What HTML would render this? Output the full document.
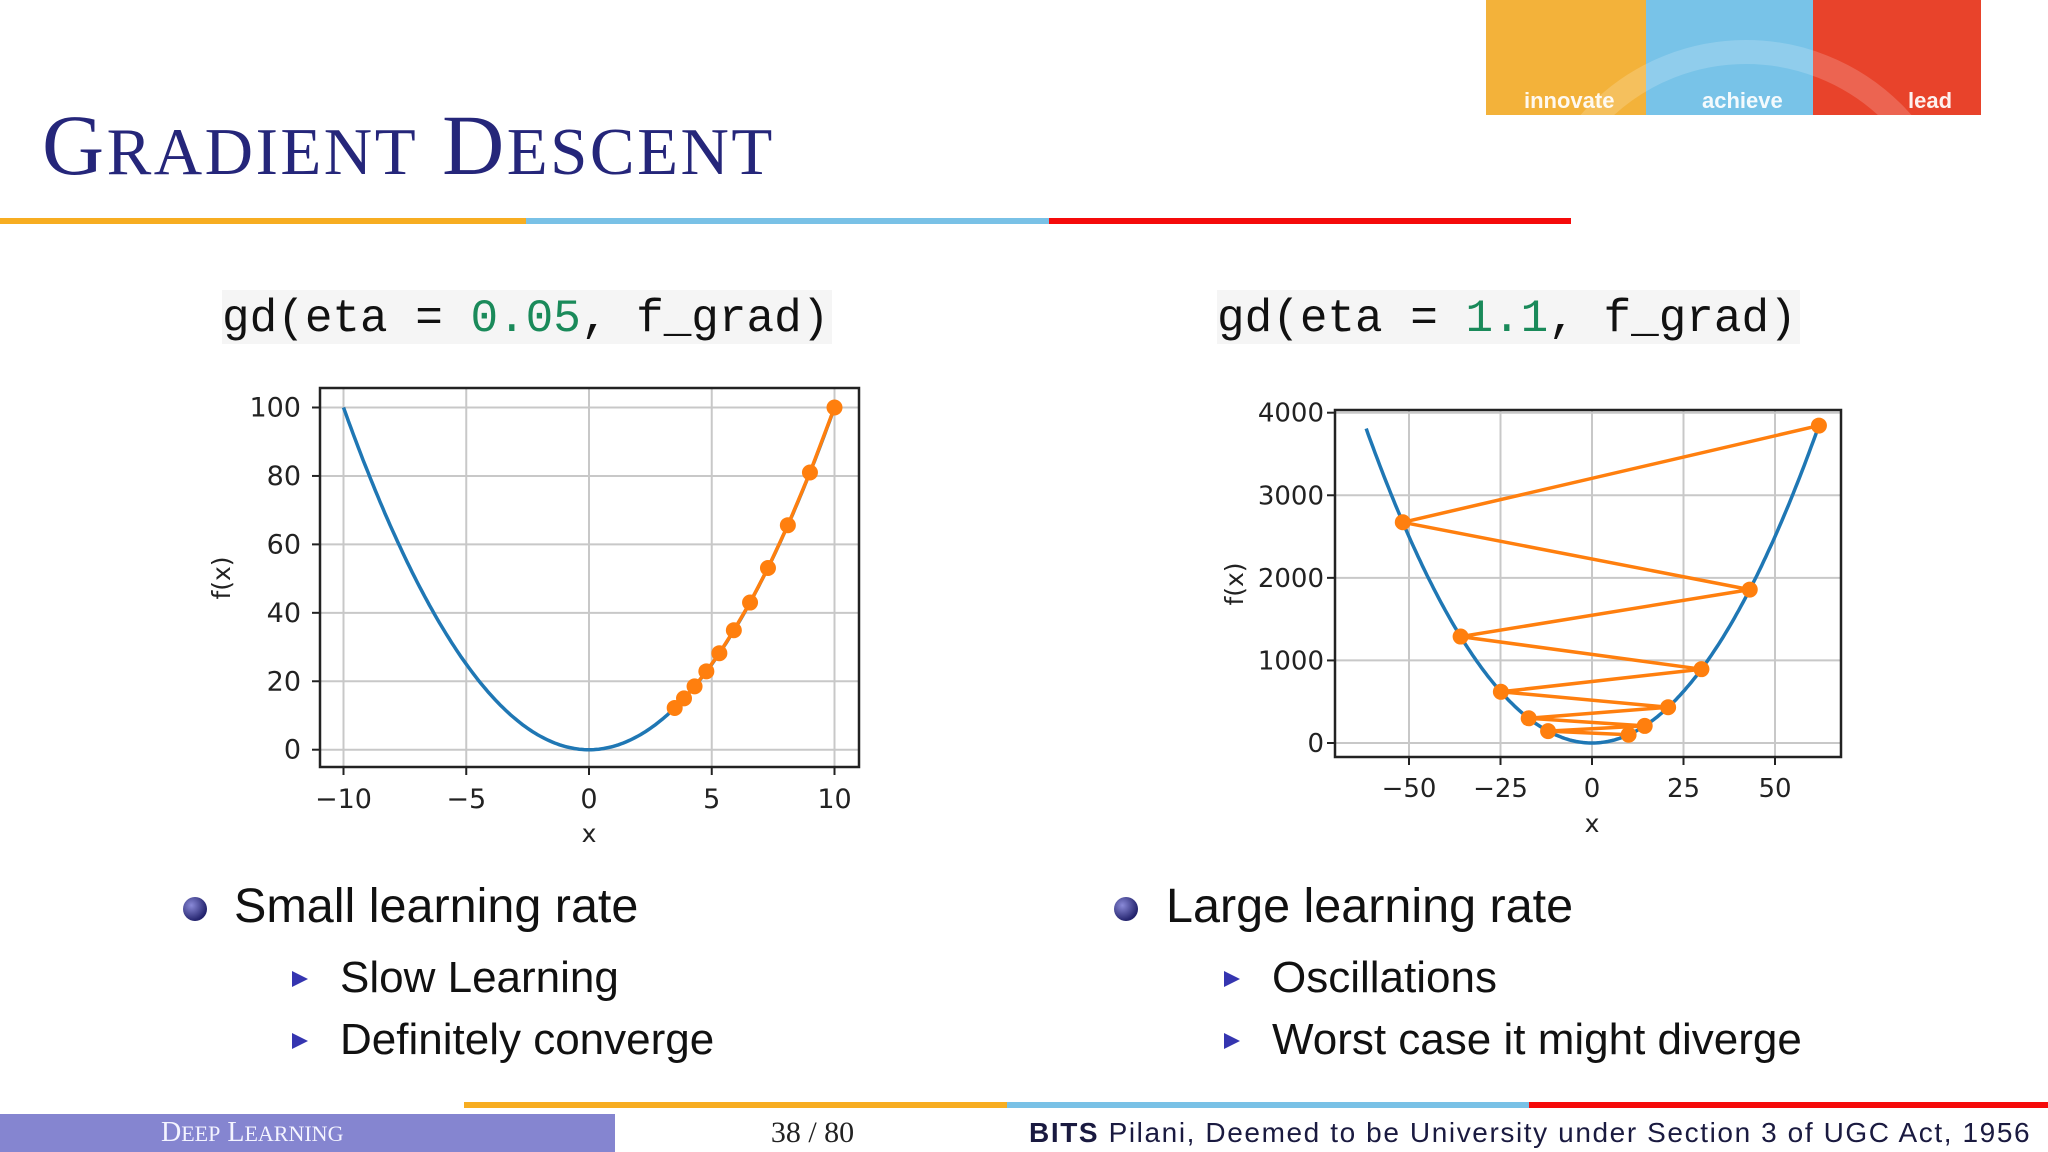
<!DOCTYPE html>
<html><head><meta charset="utf-8"><style>
html,body{margin:0;padding:0;background:#fff;}
#page{position:relative;width:2048px;height:1152px;overflow:hidden;background:#fff;font-family:"Liberation Sans",sans-serif;}
.abs{position:absolute;}
.title{left:42px;top:95px;font-family:"Liberation Serif",serif;color:#25267a;font-size:86px;letter-spacing:2.5px;white-space:nowrap;}
.title .s{font-size:67px;}
.code{background:#f5f5f5;font-family:"Liberation Mono",monospace;font-size:46px;color:#111;height:54px;line-height:58px;white-space:nowrap;}
.code .n{color:#1a8a5a;}
.bl{font-size:48.5px;color:#111;white-space:nowrap;}
.sl{font-size:44px;color:#111;white-space:nowrap;}
.ball{width:24px;height:24px;border-radius:50%;background:radial-gradient(circle at 35% 35%,#8a8ad8,#24246e 70%);}
.tri{width:0;height:0;border-top:8px solid transparent;border-bottom:8px solid transparent;border-left:16px solid #3535b0;}
</style></head><body>
<div id="page">
 <div class="abs" style="left:1486px;top:0;width:495px;height:115px;overflow:hidden;">
  <div class="abs" style="left:0;top:0;width:160px;height:115px;background:#f3b23a;"></div>
  <div class="abs" style="left:160px;top:0;width:167px;height:115px;background:#78c3e8;"></div>
  <div class="abs" style="left:327px;top:0;width:168px;height:115px;background:#e8432b;"></div>
  <div class="abs" style="left:40px;top:40px;width:440px;height:440px;border-radius:50%;border:24px solid rgba(255,255,255,0.18);box-sizing:border-box;"></div>
  <div class="abs" style="left:38px;top:88px;font-size:22px;font-weight:bold;color:#fff;opacity:.92">innovate</div>
  <div class="abs" style="left:216px;top:88px;font-size:22px;font-weight:bold;color:#fff;opacity:.92">achieve</div>
  <div class="abs" style="left:422px;top:88px;font-size:22px;font-weight:bold;color:#fff;opacity:.92">lead</div>
 </div>
 <div class="abs title">G<span class="s">RADIENT</span> D<span class="s">ESCENT</span></div>
 <div class="abs" style="left:0;top:218px;width:526px;height:6px;background:#f7ad21;"></div>
 <div class="abs" style="left:526px;top:218px;width:523px;height:6px;background:#79c1e6;"></div>
 <div class="abs" style="left:1049px;top:218px;width:522px;height:6px;background:#f50a0a;"></div>

 <div class="abs code" style="left:222px;top:290px;width:610px;">gd(eta = <span class="n">0.05</span>, f_grad)</div>
 <div class="abs code" style="left:1217px;top:290px;width:583px;">gd(eta = <span class="n">1.1</span>, f_grad)</div>

 <svg id="charts" class="abs" style="left:0;top:0" width="2048" height="1152"></svg>

 <div class="abs ball" style="left:183px;top:897px;"></div>
 <div class="abs bl" style="left:234px;top:878px;">Small learning rate</div>
 <div class="abs tri" style="left:292px;top:971px;"></div>
 <div class="abs sl" style="left:340px;top:953px;">Slow Learning</div>
 <div class="abs tri" style="left:292px;top:1033px;"></div>
 <div class="abs sl" style="left:340px;top:1015px;">Definitely converge</div>

 <div class="abs ball" style="left:1114px;top:897px;"></div>
 <div class="abs bl" style="left:1166px;top:878px;">Large learning rate</div>
 <div class="abs tri" style="left:1224px;top:971px;"></div>
 <div class="abs sl" style="left:1272px;top:953px;">Oscillations</div>
 <div class="abs tri" style="left:1224px;top:1033px;"></div>
 <div class="abs sl" style="left:1272px;top:1015px;">Worst case it might diverge</div>

 <div class="abs" style="left:464px;top:1102px;width:543px;height:6px;background:#f7ad21;"></div>
 <div class="abs" style="left:1007px;top:1102px;width:522px;height:6px;background:#79c1e6;"></div>
 <div class="abs" style="left:1529px;top:1102px;width:519px;height:6px;background:#f50a0a;"></div>
 <div class="abs" style="left:0;top:1114px;width:615px;height:38px;background:#8585d0;"></div>
 <div class="abs" style="left:161px;top:1114px;color:#f4f4ff;font-family:'Liberation Serif',serif;font-size:28px;line-height:38px;white-space:nowrap;">D<span style="font-size:22px">EEP</span> L<span style="font-size:22px">EARNING</span></div>
 <div class="abs" style="left:740px;top:1114px;width:145px;line-height:38px;text-align:center;font-family:'Liberation Serif',serif;font-size:30px;color:#222;">38 / 80</div>
 <div class="abs" style="left:1029px;top:1114px;line-height:38px;font-size:28px;letter-spacing:1.6px;color:#1a1a40;white-space:nowrap;"><b>BITS</b> Pilani, Deemed to be University under Section 3 of UGC Act, 1956</div>
</div>
<script>
// Left chart data (eta = 0.05)
const leftXTicks = [-10, -5, 0, 5, 10];
const leftYTicks = [0, 20, 40, 60, 80, 100];
const leftPathX = [10, 9, 8.1, 7.29, 6.56, 5.9, 5.31, 4.78, 4.3, 3.87, 3.49];
const leftPathY = [100, 81, 65.6, 53.1, 43, 34.9, 28.2, 22.9, 18.5, 15, 12.2];
const leftCurveRange = [-10, 10];
// Right chart data (eta = 1.1)
const rightXTicks = [-50, -25, 0, 25, 50];
const rightYTicks = [0, 1000, 2000, 3000, 4000];
const rightPathX = [62, -51.7, 43.1, -35.9, 29.9, -24.9, 20.8, -17.3, 14.4, -12, 10];
const rightPathY = [3844, 2673, 1858, 1289, 894, 620, 433, 299, 207, 144, 100];
const rightCurveRange = [-61.7, 61.7];

const NS = 'http://www.w3.org/2000/svg';
const svg = document.getElementById('charts');
function mk(tag, attrs, parent) {
  const e = document.createElementNS(NS, tag);
  for (const k in attrs) e.setAttribute(k, attrs[k]);
  (parent || svg).appendChild(e);
  return e;
}
function drawChart(cfg) {
  const g = mk('g', {});
  
  
  const sx = v => cfg.px0 + (v - cfg.x0) / (cfg.x1 - cfg.x0) * (cfg.px1 - cfg.px0);
  const sy = v => cfg.py0 + (v - cfg.y0) / (cfg.y1 - cfg.y0) * (cfg.py1 - cfg.py0);
  const b = cfg.box;
  cfg.xTicks.forEach(t => {
    const l = mk('line', {x1: sx(t), x2: sx(t), y1: b[1], y2: b[3], stroke: '#c8c8c8', 'stroke-width': 2}, g);
    
    
    mk('line', {x1: sx(t), x2: sx(t), y1: b[3], y2: b[3] + 8, stroke: '#222', 'stroke-width': 2}, g);
    const tx = mk('text', {x: sx(t), y: cfg.xLabY, 'text-anchor': 'middle', 'font-size': cfg.fs, fill: '#222', 'font-family': 'DejaVu Sans, sans-serif'}, g);
    tx.textContent = t < 0 ? '\u2212' + Math.abs(t) : String(t);
    
    
  });
  cfg.yTicks.forEach(t => {
    const l = mk('line', {x1: b[0], x2: b[2], y1: sy(t), y2: sy(t), stroke: '#c8c8c8', 'stroke-width': 2}, g);
    
    
    mk('line', {x1: b[0] - 8, x2: b[0], y1: sy(t), y2: sy(t), stroke: '#222', 'stroke-width': 2}, g);
    const tx = mk('text', {x: cfg.yLabX, y: sy(t) + 9, 'text-anchor': 'end', 'font-size': cfg.fs, fill: '#222', 'font-family': 'DejaVu Sans, sans-serif'}, g);
    tx.textContent = String(t);
    
    
  });
  let d = '';
  for (let i = 0; i <= 200; i++) {
    const x = cfg.cr[0] + (cfg.cr[1] - cfg.cr[0]) * i / 200;
    d += (i ? 'L' : 'M') + sx(x).toFixed(1) + ' ' + sy(x * x).toFixed(1);
  }
  const curve = mk('path', {d: d, fill: 'none', stroke: '#1f77b4', 'stroke-width': 3.5}, g);
  
  
  const pts = cfg.px.map((x, i) => sx(x).toFixed(1) + ',' + sy(cfg.py[i]).toFixed(1)).join(' ');
  const pl = mk('polyline', {points: pts, fill: 'none', stroke: '#ff7f0e', 'stroke-width': 3.5}, g);
  
  
  cfg.px.forEach((x, i) => {
    const c = mk('circle', {cx: sx(x), cy: sy(cfg.py[i]), r: 8, fill: '#ff7f0e'}, g);
    
    
  });
  const frame = mk('rect', {x: b[0], y: b[1], width: b[2] - b[0], height: b[3] - b[1], fill: 'none', stroke: '#222', 'stroke-width': 2.5}, g);
  
  
  const xl = mk('text', {x: sx(0), y: cfg.xTitleY, 'text-anchor': 'middle', 'font-size': 25, fill: '#222', 'font-family': 'DejaVu Sans, sans-serif'}, g);
  xl.textContent = 'x';
  
  
  const yl = mk('text', {x: 0, y: 0, transform: 'translate(' + cfg.yTitle[0] + ',' + cfg.yTitle[1] + ') rotate(-90)', 'text-anchor': 'middle', 'font-size': 25, fill: '#222', 'font-family': 'DejaVu Sans, sans-serif'}, g);
  yl.textContent = 'f(x)';
  
  
}
drawChart({name: 'chart-small-eta', box: [320, 388, 859, 767], x0: -10, x1: 10, px0: 343.5, px1: 834.5, y0: 0, y1: 100, py0: 749.7, py1: 407.5, fs: 27,
  xTicks: leftXTicks, yTicks: leftYTicks, px: leftPathX, py: leftPathY, cr: leftCurveRange, xLabY: 808, yLabX: 301, xTitleY: 842, yTitle: [230, 578]});
drawChart({name: 'chart-large-eta', box: [1335, 410, 1841, 757], x0: -50, x1: 50, px0: 1409, px1: 1775, y0: 0, y1: 4000, py0: 743, py1: 412.7, fs: 26,
  xTicks: rightXTicks, yTicks: rightYTicks, px: rightPathX, py: rightPathY, cr: rightCurveRange, xLabY: 797, yLabX: 1324, xTitleY: 832, yTitle: [1243, 584]});
</script>
</body></html>
